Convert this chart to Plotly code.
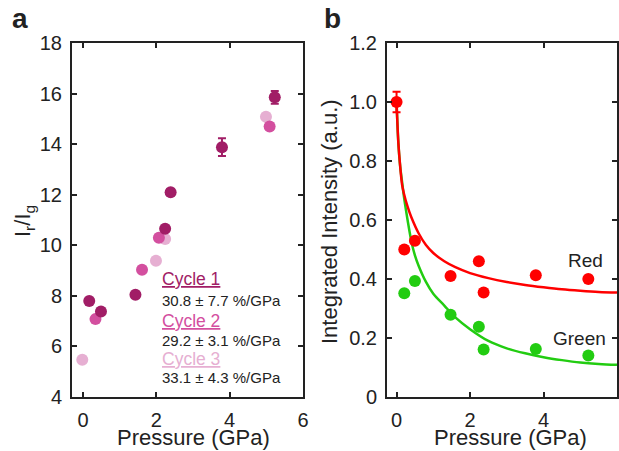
import plotly.graph_objects as go

# ---------------- Panel a data ----------------
c1_p = [0.17, 0.49, 1.43, 2.24, 2.39, 3.79, 5.23]
c1_r = [7.80, 7.38, 8.04, 10.65, 12.10, 13.88, 15.85]
c1_err = [0.0, 0.0, 0.0, 0.0, 0.12, 0.35, 0.25]

c2_p = [0.34, 1.61, 2.07, 5.09]
c2_r = [7.08, 9.03, 10.30, 14.70]

c3_p = [-0.02, 1.99, 2.24, 4.99]
c3_r = [5.47, 9.39, 10.25, 15.08]

legend_names = ["Cycle 1", "Cycle 2", "Cycle 3"]
legend_rates = ["30.8 ± 7.7 %/GPa", "29.2 ± 3.1 %/GPa", "33.1 ± 4.3 %/GPa"]

# ---------------- Panel b data ----------------
red_p = [0.0, 0.21, 0.50, 1.47, 2.24, 2.37, 3.79, 5.22]
red_i = [1.00, 0.50, 0.53, 0.41, 0.46, 0.354, 0.413, 0.40]
red_err = [0.035, 0, 0, 0, 0, 0, 0, 0]

green_p = [0.21, 0.50, 1.47, 2.24, 2.37, 3.79, 5.22]
green_i = [0.352, 0.393, 0.279, 0.238, 0.161, 0.163, 0.141]

red_fit_p = [0, 0.05, 0.1, 0.15, 0.2, 0.3, 0.4, 0.6, 0.8, 1.0, 1.3, 1.6, 2.0, 2.5, 3.0, 3.5, 4.0, 4.5, 5.0, 5.5, 6.0]
red_fit_i = [1.0, 0.86, 0.78, 0.72, 0.69, 0.645, 0.61, 0.555, 0.515, 0.488, 0.46, 0.44, 0.42, 0.403, 0.39, 0.38, 0.372, 0.365, 0.36, 0.356, 0.354]

green_fit_p = [0, 0.05, 0.1, 0.15, 0.2, 0.3, 0.4, 0.5, 0.6, 0.8, 1.0, 1.3, 1.6, 2.0, 2.5, 3.0, 3.5, 4.0, 4.5, 5.0, 5.5, 6.0]
green_fit_i = [1.0, 0.86, 0.78, 0.73, 0.68, 0.6, 0.53, 0.48, 0.445, 0.39, 0.35, 0.31, 0.27, 0.23, 0.19, 0.165, 0.148, 0.135, 0.125, 0.117, 0.112, 0.109]

# axis settings
a_xrange = [-0.3, 6]
a_yrange = [4, 18]
b_xrange = [-0.26, 6]
b_yrange = [0, 1.2]
x_ticks = [0, 2, 4, 6]
a_yticks = [4, 6, 8, 10, 12, 14, 16, 18]
b_yticks = [0, 0.2, 0.4, 0.6, 0.8, 1.0, 1.2]
b_yticktext = ["0", "0.2", "0.4", "0.6", "0.8", "1.0", "1.2"]

C1 = "#a11d66"
C2 = "#d34f9f"
C3 = "#e6afd2"
RED = "#ff0000"
GREEN = "#22cc11"
FONT = "Liberation Sans, Arial, Helvetica, sans-serif"
MS = 12
LINE = "#222222"

W, H = 619, 451
ydom = [1 - 397 / H, 1 - 43 / H]
a_xdom = [72 / W, 303 / W]
b_xdom = [387 / W, 617 / W]

fig = go.Figure()

# Panel a
fig.add_trace(go.Scatter(x=c3_p, y=c3_r, mode="markers", marker=dict(color=C3, size=MS),
                         xaxis="x", yaxis="y", showlegend=False))
fig.add_trace(go.Scatter(x=c2_p, y=c2_r, mode="markers", marker=dict(color=C2, size=MS),
                         xaxis="x", yaxis="y", showlegend=False))
fig.add_trace(go.Scatter(x=c1_p, y=c1_r, mode="markers", marker=dict(color=C1, size=MS),
                         error_y=dict(type="data", array=c1_err, color=C1, thickness=2, width=4),
                         xaxis="x", yaxis="y", showlegend=False))

# Panel b
fig.add_trace(go.Scatter(x=green_fit_p, y=green_fit_i, mode="lines", line=dict(color=GREEN, width=2.5, shape="spline"),
                         xaxis="x2", yaxis="y2", showlegend=False))
fig.add_trace(go.Scatter(x=red_fit_p, y=red_fit_i, mode="lines", line=dict(color=RED, width=2.5, shape="spline"),
                         xaxis="x2", yaxis="y2", showlegend=False))
fig.add_trace(go.Scatter(x=green_p, y=green_i, mode="markers", marker=dict(color=GREEN, size=MS),
                         xaxis="x2", yaxis="y2", showlegend=False))
fig.add_trace(go.Scatter(x=red_p, y=red_i, mode="markers", marker=dict(color=RED, size=MS),
                         error_y=dict(type="data", array=red_err, color=RED, thickness=2, width=4),
                         xaxis="x2", yaxis="y2", showlegend=False))

axis_common = dict(showgrid=False, zeroline=False, showline=True, linecolor=LINE, linewidth=2,
                   mirror="ticks", ticks="inside", ticklen=5, tickwidth=1.5, tickcolor=LINE,
                   automargin=False, ticklabelstandoff=4,
                   tickfont=dict(family=FONT, size=20, color=LINE))

fig.update_layout(
    template="none",
    width=W, height=H, autosize=False,
    margin=dict(l=0, r=0, t=0, b=0, pad=0),
    paper_bgcolor="white", plot_bgcolor="white",
    xaxis=dict(axis_common, domain=a_xdom, range=a_xrange, tickvals=x_ticks, anchor="y"),
    yaxis=dict(axis_common, domain=ydom, range=a_yrange, tickvals=a_yticks, anchor="x"),
    xaxis2=dict(axis_common, domain=b_xdom, range=b_xrange, tickvals=x_ticks, anchor="y2"),
    yaxis2=dict(axis_common, domain=ydom, range=b_yrange, tickvals=b_yticks, ticktext=b_yticktext, anchor="x2"),
)

ann = []
def txt(x, y, s, size, color=LINE, xanchor="center", yanchor="middle", angle=0, xref="paper", yref="paper"):
    ann.append(dict(x=x, y=y, xref=xref, yref=yref, text=s, showarrow=False, xanchor=xanchor,
                    yanchor=yanchor, textangle=angle, font=dict(family=FONT, size=size, color=color)))

# panel letters
txt(20 / W, 1 - 18 / H, "<b>a</b>", 28)
txt(332 / W, 1 - 18 / H, "<b>b</b>", 28)
# axis titles
txt(193 / W, 1 - 437 / H, "Pressure (GPa)", 22)
txt(510 / W, 1 - 437 / H, "Pressure (GPa)", 22)
txt(24 / W, 1 - 221 / H, "I<sub>r</sub>/I<sub>g</sub>", 22, angle=-90)
txt(330 / W, 1 - 222 / H, "Integrated Intensity (a.u.)", 22, angle=-90)
# legend text panel a
cols = [C1, C2, C3]
ys_name = [279, 320.5, 359]
ys_rate = [300, 340, 377.5]
for i in range(3):
    txt(160 / W, 1 - ys_name[i] / H, "<u>" + legend_names[i] + "</u>", 17.5, color=cols[i], xanchor="left")
    txt(160 / W, 1 - ys_rate[i] / H, legend_rates[i], 15, xanchor="left")
# panel b labels
txt(605 / W, 1 - 260 / H, "Red", 19, xanchor="right")
txt(608 / W, 1 - 338 / H, "Green", 19, xanchor="right")

fig.update_layout(annotations=ann)

post = "document.body.style.margin='0px';document.body.style.overflow='hidden';"
fig.write_html("out.html", post_script=post, config={"displayModeBar": False})
